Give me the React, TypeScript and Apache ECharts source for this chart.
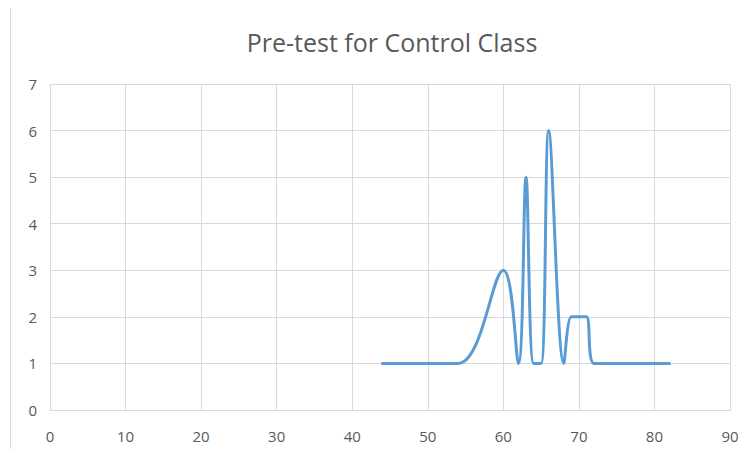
import React, { useEffect, useRef } from "react";
import * as echarts from "echarts";

const scoreValues: number[] = [44, 54, 60, 62, 63, 64, 65, 66, 68, 69, 70, 71, 72, 75, 82];
const frequencyValues: number[] = [1, 1, 3, 1, 5, 1, 1, 6, 1, 2, 2, 2, 1, 1, 1];
const chartTitle = "Pre-test for Control Class";

export default function App() {
  const ref = useRef<HTMLDivElement>(null);
  useEffect(() => {
    if (!ref.current) return;
    const chart = echarts.init(ref.current, undefined, { renderer: "svg" });
    const data = scoreValues.map((x, i) => [x, frequencyValues[i]]);
    chart.setOption({
      animation: false,
      backgroundColor: "#ffffff",
      title: {
        text: chartTitle,
        left: 387,
        top: 24,
        textAlign: "center",
        textStyle: {
          fontFamily: "Open Sans",
          fontSize: 25,
          fontWeight: "normal",
          color: "#595959",
        },
      },
      graphic: [
        {
          type: "rect",
          shape: { x: 10.5, y: 5.5, width: 760, height: 460 },
          style: { fill: "none", stroke: "#d9d9d9", lineWidth: 1 },
          silent: true,
        },
      ],
      grid: { left: 50, right: 25, top: 84, bottom: 47, containLabel: false },
      xAxis: {
        type: "value",
        min: 0,
        max: 90,
        interval: 10,
        axisLine: { show: true, lineStyle: { color: "#d9d9d9", width: 1 } },
        axisTick: { show: false },
        splitLine: { show: true, lineStyle: { color: "#d9d9d9", width: 1 } },
        axisLabel: {
          color: "#595959",
          fontFamily: "Open Sans",
          fontSize: 15,
          margin: 18,
        },
      },
      yAxis: {
        type: "value",
        min: 0,
        max: 7,
        interval: 1,
        axisLine: { show: false },
        axisTick: { show: false },
        splitLine: { show: true, lineStyle: { color: "#d9d9d9", width: 1 } },
        axisLabel: {
          color: "#595959",
          fontFamily: "Open Sans",
          fontSize: 15,
          margin: 13,
        },
      },
      series: [
        {
          type: "line",
          data,
          smooth: 0.35,
          showSymbol: false,
          symbol: "none",
          lineStyle: { color: "#5b9bd5", width: 3, cap: "round", join: "round" },
        },
      ],
    });
    return () => chart.dispose();
  }, []);
  return <div ref={ref} style={{ width: 755, height: 457, margin: -8 }} />;
}
